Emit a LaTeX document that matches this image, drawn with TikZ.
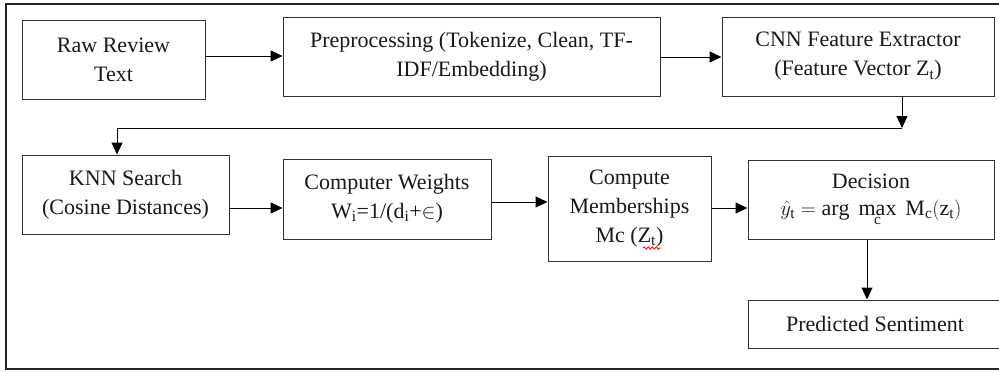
\documentclass[tikz,border=0pt]{standalone}
\usepackage{fontspec}
\setmainfont{Liberation Serif}
\usetikzlibrary{arrows.meta,decorations.pathmorphing}
\begin{document}
\begin{tikzpicture}[x=1pt,y=-1pt,
  box/.style={draw=black!80, line width=1pt, inner sep=0pt, align=center,
    font=\fontsize{22}{29}\selectfont, text=black!90},
  conn/.style={draw=black, line width=1pt, -{Triangle[length=12pt,width=11pt]}},
  plain/.style={draw=black, line width=1pt}]
\useasboundingbox (0,0) rectangle (999,372);
\clip (0,0) rectangle (999,372);
\fill[white] (0,0) rectangle (999,372);
% outer frame
\draw[line width=2pt, black!85] (6,4) rectangle (1010,369);
% row 1
\node[box, minimum width=183pt, minimum height=79pt] (raw) at (113.5,59.5) {Raw Review\\Text};
\node[box, minimum width=377pt, minimum height=79pt] (pre) at (471.5,56.5) {Preprocessing (Tokenize, Clean, TF-\\IDF/Embedding)};
\node[box, minimum width=272pt, minimum height=79pt] (cnn) at (858,56.5) {CNN Feature Extractor\\(Feature Vector Z\textsubscript{t})};
% row 2
\node[box, minimum width=207pt, minimum height=79pt] (knn) at (125.5,194.5) {KNN Search\\(Cosine Distances)};
\node[box, minimum width=208pt, minimum height=80pt] (wts) at (387,199) {Computer Weights\\W\textsubscript{i}=1/(d\textsubscript{i}+$\in$)};
\node[box, minimum width=163pt, minimum height=105pt] (mem) at (629.5,208.5) {Compute\\Memberships\\Mc (Z\textsubscript{t})};
\node[box, minimum width=246pt, minimum height=79pt] (dec) at (871,199.5) {Decision\\[-2pt]$\hat{y}_{\mathrm{t}} = \mathrm{arg}\ \max\limits_{\mathrm{c}}\ \mathrm{M_c}(\mathrm{z_t})$};
\node[box, minimum width=254pt, minimum height=48pt] (pred) at (875,324) {Predicted Sentiment};
% spell-check squiggle
\draw[red, line width=0.8pt, decorate, decoration={snake, amplitude=1.2pt, segment length=4pt}] (643,248) -- (661,248);
% connectors
\coordinate (c1) at (902,128);
\draw[conn] (raw.east |- 0,56) -- (pre.west |- 0,56);
\draw[conn] (pre.east |- 0,57) -- (cnn.west |- 0,57);
\draw[conn] (cnn.south -| c1) -- (c1);
\draw[conn] (c1) -| (knn.north -| 117,0);
\draw[conn] (knn.east |- 0,208) -- (wts.west |- 0,208);
\draw[conn] (wts.east |- 0,202) -- (mem.west |- 0,202);
\draw[conn] (mem.east |- 0,208) -- (dec.west |- 0,208);
\draw[conn] (dec.south -| 867,0) -- (pred.north -| 867,0);
\end{tikzpicture}
\end{document}
